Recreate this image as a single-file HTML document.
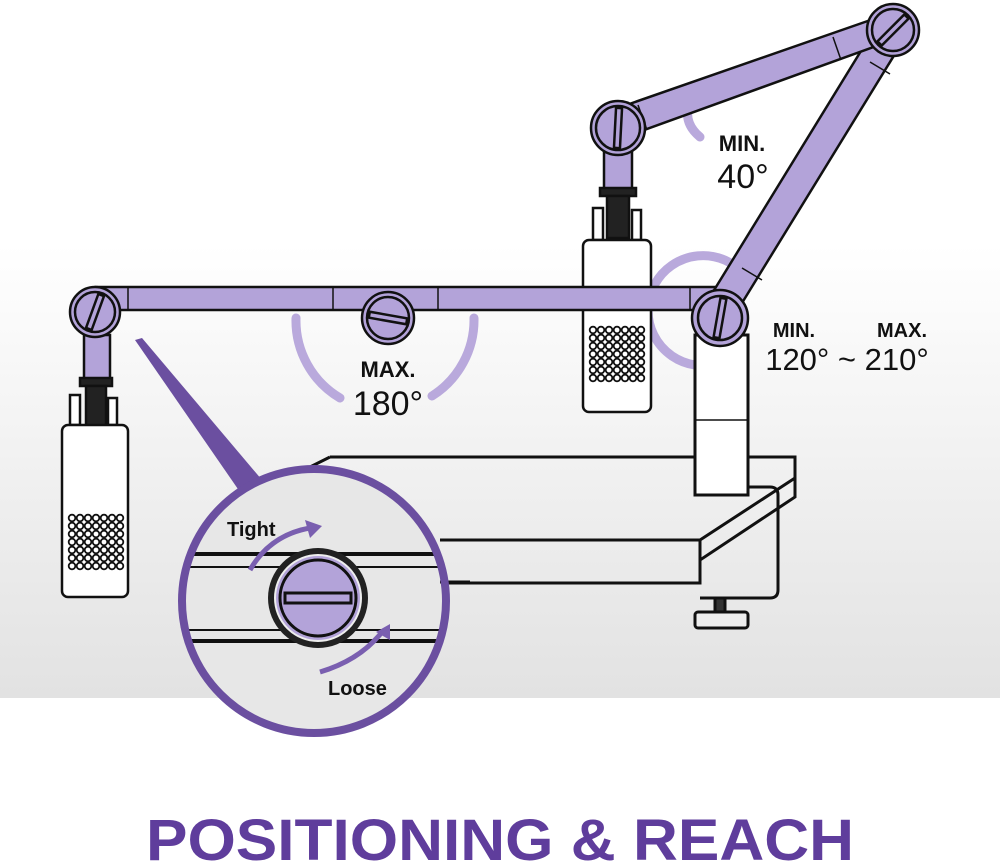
<!DOCTYPE html>
<html><head><meta charset="utf-8"><style>
html,body{margin:0;padding:0;background:#fff}
svg{display:block}
text{font-family:"Liberation Sans",sans-serif}
</style></head><body>
<svg width="1000" height="865" viewBox="0 0 1000 865" xmlns="http://www.w3.org/2000/svg">
<defs>
<linearGradient id="bg" x1="0" y1="0" x2="0" y2="1">
<stop offset="0" stop-color="#ffffff"/><stop offset="0.35" stop-color="#ffffff"/><stop offset="1" stop-color="#e2e2e2"/>
</linearGradient>
<clipPath id="cc"><circle cx="314" cy="601" r="132"/></clipPath>
</defs>
<rect width="1000" height="698" fill="url(#bg)"/>
<rect y="698" width="1000" height="167" fill="#fff"/>

<!-- angle arcs -->
<g fill="none" stroke="#b9a9dc" stroke-width="9" stroke-linecap="round">
<path d="M296 318 A90 90 0 0 0 340 398"/>
<path d="M474 318 A90 90 0 0 1 432 396"/>
<path d="M690 102 Q682 122 700 137"/>
<path d="M782 186 Q798 182 808 176"/>
<path d="M745 275 A55 55 0 1 0 695 365"/>
</g>

<!-- desk -->
<g fill="none" stroke="#111" stroke-width="3">
<path d="M330 457 L795 457 L795 497 L700 560 L700 583 L440 583"/>
<path d="M330 457 L300 472"/>
<path d="M440 540 L700 540 L795 478"/>
<path d="M700 540 L700 560"/>
</g>
<!-- clamp -->
<g fill="none" stroke="#111" stroke-width="3">
<path d="M740 487 L770 487 Q778 487 778 495 L778 590 Q778 598 770 598 L700 598"/>
<rect x="715" y="598" width="10" height="15" fill="#333"/>
<rect x="695" y="612" width="53" height="16" rx="3" fill="#eee"/>
</g>
<!-- pole -->
<rect x="695" y="335" width="53" height="160" fill="#fff" stroke="#111" stroke-width="3"/>
<line x1="695" y1="420" x2="748" y2="420" stroke="#111" stroke-width="1.5"/>

<!-- right mic -->
<g stroke="#111" stroke-width="2.5">
<rect x="604" y="150" width="28" height="40" fill="#b3a3d9"/>
<rect x="600" y="188" width="36" height="8" fill="#222"/>
<rect x="607" y="196" width="22" height="42" fill="#222"/>
<rect x="593" y="208" width="10" height="32" fill="#fff"/>
<rect x="632" y="210" width="9" height="30" fill="#fff"/>
<rect x="583" y="240" width="68" height="172" rx="6" fill="#fff"/>
</g>

<!-- left mic -->
<g stroke="#111" stroke-width="2.5">
<rect x="84" y="335" width="26" height="45" fill="#b3a3d9"/>
<rect x="80" y="378" width="32" height="8" fill="#222"/>
<rect x="86" y="386" width="20" height="40" fill="#222"/>
<rect x="70" y="395" width="10" height="30" fill="#fff"/>
<rect x="108" y="398" width="9" height="27" fill="#fff"/>
<rect x="62" y="425" width="66" height="172" rx="6" fill="#fff"/>
</g>

<!-- grilles -->
<g fill="none" stroke="#111" stroke-width="1.8">
<g transform="translate(72,518)">
<circle cx="0" cy="0" r="3.3"/><circle cx="8" cy="0" r="3.3"/><circle cx="16" cy="0" r="3.3"/><circle cx="24" cy="0" r="3.3"/><circle cx="32" cy="0" r="3.3"/><circle cx="40" cy="0" r="3.3"/><circle cx="48" cy="0" r="3.3"/>
<circle cx="0" cy="8" r="3.3"/><circle cx="8" cy="8" r="3.3"/><circle cx="16" cy="8" r="3.3"/><circle cx="24" cy="8" r="3.3"/><circle cx="32" cy="8" r="3.3"/><circle cx="40" cy="8" r="3.3"/><circle cx="48" cy="8" r="3.3"/>
<circle cx="0" cy="16" r="3.3"/><circle cx="8" cy="16" r="3.3"/><circle cx="16" cy="16" r="3.3"/><circle cx="24" cy="16" r="3.3"/><circle cx="32" cy="16" r="3.3"/><circle cx="40" cy="16" r="3.3"/><circle cx="48" cy="16" r="3.3"/>
<circle cx="0" cy="24" r="3.3"/><circle cx="8" cy="24" r="3.3"/><circle cx="16" cy="24" r="3.3"/><circle cx="24" cy="24" r="3.3"/><circle cx="32" cy="24" r="3.3"/><circle cx="40" cy="24" r="3.3"/><circle cx="48" cy="24" r="3.3"/>
<circle cx="0" cy="32" r="3.3"/><circle cx="8" cy="32" r="3.3"/><circle cx="16" cy="32" r="3.3"/><circle cx="24" cy="32" r="3.3"/><circle cx="32" cy="32" r="3.3"/><circle cx="40" cy="32" r="3.3"/><circle cx="48" cy="32" r="3.3"/>
<circle cx="0" cy="40" r="3.3"/><circle cx="8" cy="40" r="3.3"/><circle cx="16" cy="40" r="3.3"/><circle cx="24" cy="40" r="3.3"/><circle cx="32" cy="40" r="3.3"/><circle cx="40" cy="40" r="3.3"/><circle cx="48" cy="40" r="3.3"/>
<circle cx="0" cy="48" r="3.3"/><circle cx="8" cy="48" r="3.3"/><circle cx="16" cy="48" r="3.3"/><circle cx="24" cy="48" r="3.3"/><circle cx="32" cy="48" r="3.3"/><circle cx="40" cy="48" r="3.3"/><circle cx="48" cy="48" r="3.3"/>
</g>
<g transform="translate(593,330)">
<circle cx="0" cy="0" r="3.3"/><circle cx="8" cy="0" r="3.3"/><circle cx="16" cy="0" r="3.3"/><circle cx="24" cy="0" r="3.3"/><circle cx="32" cy="0" r="3.3"/><circle cx="40" cy="0" r="3.3"/><circle cx="48" cy="0" r="3.3"/>
<circle cx="0" cy="8" r="3.3"/><circle cx="8" cy="8" r="3.3"/><circle cx="16" cy="8" r="3.3"/><circle cx="24" cy="8" r="3.3"/><circle cx="32" cy="8" r="3.3"/><circle cx="40" cy="8" r="3.3"/><circle cx="48" cy="8" r="3.3"/>
<circle cx="0" cy="16" r="3.3"/><circle cx="8" cy="16" r="3.3"/><circle cx="16" cy="16" r="3.3"/><circle cx="24" cy="16" r="3.3"/><circle cx="32" cy="16" r="3.3"/><circle cx="40" cy="16" r="3.3"/><circle cx="48" cy="16" r="3.3"/>
<circle cx="0" cy="24" r="3.3"/><circle cx="8" cy="24" r="3.3"/><circle cx="16" cy="24" r="3.3"/><circle cx="24" cy="24" r="3.3"/><circle cx="32" cy="24" r="3.3"/><circle cx="40" cy="24" r="3.3"/><circle cx="48" cy="24" r="3.3"/>
<circle cx="0" cy="32" r="3.3"/><circle cx="8" cy="32" r="3.3"/><circle cx="16" cy="32" r="3.3"/><circle cx="24" cy="32" r="3.3"/><circle cx="32" cy="32" r="3.3"/><circle cx="40" cy="32" r="3.3"/><circle cx="48" cy="32" r="3.3"/>
<circle cx="0" cy="40" r="3.3"/><circle cx="8" cy="40" r="3.3"/><circle cx="16" cy="40" r="3.3"/><circle cx="24" cy="40" r="3.3"/><circle cx="32" cy="40" r="3.3"/><circle cx="40" cy="40" r="3.3"/><circle cx="48" cy="40" r="3.3"/>
<circle cx="0" cy="48" r="3.3"/><circle cx="8" cy="48" r="3.3"/><circle cx="16" cy="48" r="3.3"/><circle cx="24" cy="48" r="3.3"/><circle cx="32" cy="48" r="3.3"/><circle cx="40" cy="48" r="3.3"/><circle cx="48" cy="48" r="3.3"/>
</g>
</g>

<!-- arms -->
<g stroke="#111" stroke-width="2.5" fill="#b3a3d9" stroke-linejoin="round">
<path d="M95 287 L720 287 L720 310 L95 310 Z"/>
<path d="M708 300 L880 20 L906 36 L734 316 Z"/>
<path d="M612 110 L885 15 L893 40 L622 138 Z"/>
</g>
<g stroke="#111" stroke-width="1.5">
<line x1="128" y1="287" x2="128" y2="310"/><line x1="333" y1="287" x2="333" y2="310"/><line x1="438" y1="287" x2="438" y2="310"/><line x1="690" y1="287" x2="690" y2="310"/>
<line x1="638" y1="105" x2="647" y2="130"/><line x1="833" y1="37" x2="841" y2="60"/>
<line x1="870" y1="62" x2="890" y2="74"/><line x1="742" y1="268" x2="762" y2="280"/>
</g>

<!-- knobs -->
<g stroke="#111" stroke-width="2.5">
<g><circle cx="95" cy="312" r="25" fill="#b3a3d9"/><circle cx="95" cy="312" r="20" fill="none"/><rect x="-3" y="-18" width="6" height="36" fill="#b3a3d9" transform="translate(95,312) rotate(20)"/></g>
<g><circle cx="388" cy="318" r="26" fill="#b3a3d9"/><circle cx="388" cy="318" r="21" fill="none"/><rect x="-19" y="-3" width="38" height="6" fill="#b3a3d9" transform="translate(388,318) rotate(10)"/></g>
<g><circle cx="720" cy="318" r="28" fill="#b3a3d9"/><circle cx="720" cy="318" r="22" fill="none"/><rect x="-3" y="-20" width="6" height="40" fill="#b3a3d9" transform="translate(720,318) rotate(10)"/></g>
<g><circle cx="893" cy="30" r="26" fill="#b3a3d9"/><circle cx="893" cy="30" r="21" fill="none"/><rect x="-3" y="-19" width="6" height="38" fill="#b3a3d9" transform="translate(893,30) rotate(45)"/></g>
<g><circle cx="618" cy="128" r="27" fill="#b3a3d9"/><circle cx="618" cy="128" r="22" fill="none"/><rect x="-3" y="-20" width="6" height="40" fill="#b3a3d9" transform="translate(618,128) rotate(3)"/></g>
</g>

<!-- labels -->
<g fill="#111" text-anchor="middle">
<text x="388" y="377" font-size="22" font-weight="bold">MAX.</text>
<text x="388" y="415" font-size="34">180°</text>
<text x="742" y="151" font-size="22" font-weight="bold">MIN.</text>
<text x="743" y="188" font-size="34">40°</text>
<text x="794" y="337" font-size="20" font-weight="bold">MIN.</text>
<text x="902" y="337" font-size="20" font-weight="bold">MAX.</text>
<text x="847" y="370" font-size="31">120° ~ 210°</text>
</g>

<!-- pointer -->
<path d="M135 340 L142 338 L262 480 L240 492 Z" fill="#6b4fa0"/>

<!-- inset -->
<circle cx="314" cy="601" r="132" fill="#e7e7e7"/>
<g clip-path="url(#cc)" stroke="#111">
<line x1="170" y1="554" x2="460" y2="554" stroke-width="4"/>
<line x1="170" y1="567" x2="460" y2="567" stroke-width="2"/>
<line x1="170" y1="630" x2="460" y2="630" stroke-width="2"/>
<line x1="170" y1="641" x2="460" y2="641" stroke-width="4"/>
</g>
<g stroke="#111">
<line x1="440" y1="540" x2="470" y2="540" stroke-width="2"/>
<line x1="440" y1="582" x2="470" y2="582" stroke-width="3"/>
</g>
<circle cx="314" cy="601" r="132" fill="none" stroke="#6b4fa0" stroke-width="8"/>
<circle cx="318" cy="598" r="50" fill="#222"/>
<circle cx="318" cy="598" r="43" fill="#b3a3d9" stroke="#eee" stroke-width="2"/>
<circle cx="318" cy="598" r="38" fill="#b3a3d9" stroke="#111" stroke-width="3"/>
<rect x="285" y="593" width="66" height="10" fill="#b3a3d9" stroke="#111" stroke-width="3"/>
<!-- arrows -->
<g fill="none" stroke="#7a5fb0" stroke-width="5">
<path d="M250 570 Q270 535 310 528"/>
<path d="M320 672 Q360 660 382 632"/>
</g>
<polygon points="322,526 305,520 310,538" fill="#7a5fb0"/>
<polygon points="390,624 376,632 390,640" fill="#7a5fb0"/>
<text x="227" y="536" font-size="20" font-weight="bold" fill="#111">Tight</text>
<text x="328" y="695" font-size="20" font-weight="bold" fill="#111">Loose</text>

<text x="500" y="860" font-size="58" font-weight="bold" fill="#5f3d9c" text-anchor="middle" textLength="708" lengthAdjust="spacingAndGlyphs">POSITIONING &amp; REACH</text>
</svg>
</body></html>
